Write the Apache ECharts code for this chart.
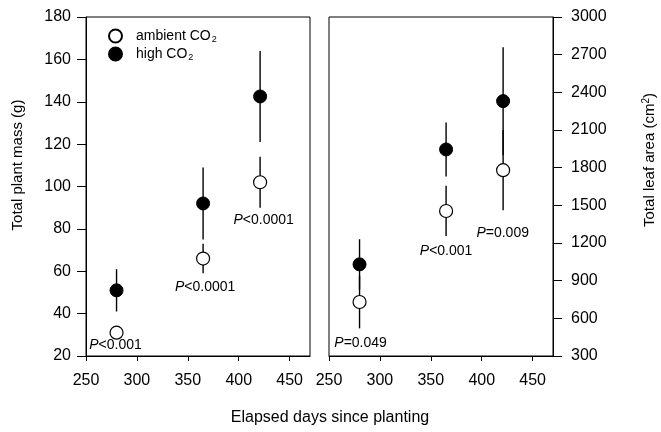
<!DOCTYPE html>
<html>
<head>
<meta charset="utf-8">
<script src="https://cdn.jsdelivr.net/npm/echarts@6/dist/echarts.min.js"></script>
<style>html,body{margin:0;padding:0;background:#fff}#c{width:661px;height:432px}</style>
</head>
<body>
<div id="c"></div>
<script>
// ---- data ----
var days = [280, 365, 421];
var massAmbient = [31, 66, 102];
var massAmbientErr = [3, 7, 12];
var massHigh = [51, 92, 142.5];
var massHighErr = [10, 17, 21.5];
var areaAmbient = [730, 1455, 1780];
var areaAmbientErr = [210, 200, 320];
var areaHigh = [1030, 1945, 2330];
var areaHighErr = [200, 215, 430];
var xTicks = [250, 300, 350, 400, 450];
var massPText = ['<0.001', '<0.0001', '<0.0001'];
var massPPos = [[279, 25], [367, 52.5], [424.5, 84]];
var areaPText = ['=0.049', '<0.001', '=0.009'];
var areaPPos = [[281, 403], [365, 1136], [420.6, 1280]];

var FONT = '"Liberation Sans", Arial, Helvetica, sans-serif';

function pts(v) { return days.map(function (d, i) { return [d, v[i]]; }); }
function errs(v, e) { return days.map(function (d, i) { return [d, v[i] - e[i], v[i] + e[i]]; }); }
function plabels(pos, txt) { return pos.map(function (p, i) { return [p[0], p[1], txt[i]]; }); }

function errSeries(data, xi, yi) {
  return {
    type: 'custom', xAxisIndex: xi, yAxisIndex: yi, data: data, z: 1,
    encode: { x: 0, y: [1, 2] },
    renderItem: function (params, api) {
      var a = api.coord([api.value(0), api.value(1)]);
      var b = api.coord([api.value(0), api.value(2)]);
      return { type: 'line', shape: { x1: a[0], y1: a[1], x2: b[0], y2: b[1] },
               style: { stroke: '#000', lineWidth: 1.4 } };
    }
  };
}
var ambStyle = { color: '#fff', borderColor: '#000', borderWidth: 1.2, opacity: 1 };
var highStyle = { color: '#000', borderColor: '#000', borderWidth: 1, opacity: 1 };
function ptSeries(name, data, xi, yi, style) {
  return { name: name, type: 'scatter', xAxisIndex: xi, yAxisIndex: yi, data: data,
           symbol: 'circle', symbolSize: 13, itemStyle: style, z: 3 };
}
function labSeries(data, xi, yi) {
  return {
    type: 'scatter', xAxisIndex: xi, yAxisIndex: yi, data: data, symbolSize: 0, z: 4,
    silent: true, itemStyle: { opacity: 1 },
    label: {
      show: true, position: 'inside', opacity: 1, color: '#000',
      formatter: function (p) { return '{i|P}{n|' + p.value[2] + '}'; },
      rich: {
        i: { fontStyle: 'italic', fontSize: 14, fontFamily: FONT, color: '#000' },
        n: { fontSize: 14, fontFamily: FONT, color: '#000' }
      }
    }
  };
}
function xAx(gi) {
  return {
    type: 'value', gridIndex: gi, min: 250, max: 470, interval: 50,
    axisLine: { lineStyle: { color: '#000', width: 1 } },
    axisTick: { length: 5, customValues: xTicks, lineStyle: { color: '#000' } },
    axisLabel: { customValues: xTicks, margin: 17, fontSize: 16, fontFamily: FONT, color: '#000' },
    splitLine: { show: false }
  };
}
function plain(v) { return String(v); }

var chart = echarts.init(document.getElementById('c'));
chart.setOption({
  animation: false,
  backgroundColor: '#fff',
  grid: [
    { left: 86, top: 17, width: 224, height: 339, show: true, borderColor: '#000', borderWidth: 1 },
    { left: 329, top: 17, width: 224, height: 339, show: true, borderColor: '#000', borderWidth: 1 }
  ],
  xAxis: [xAx(0), xAx(1)],
  yAxis: [
    { type: 'value', gridIndex: 0, min: 20, max: 180, interval: 20,
      axisLine: { show: true, lineStyle: { color: '#000' } },
      axisTick: { show: true, length: 9, lineStyle: { color: '#000' } },
      axisLabel: { margin: 15, fontSize: 16, fontFamily: FONT, color: '#000', formatter: plain },
      splitLine: { show: false } },
    { type: 'value', gridIndex: 1, position: 'right', min: 300, max: 3000, interval: 300,
      axisLine: { show: true, lineStyle: { color: '#000' } },
      axisTick: { show: true, length: 9, lineStyle: { color: '#000' } },
      axisLabel: { margin: 18, fontSize: 16, fontFamily: FONT, color: '#000', formatter: plain },
      splitLine: { show: false } }
  ],
  legend: {
    orient: 'vertical', left: 103, top: 23, itemWidth: 13, itemHeight: 13, itemGap: 2,
    icon: 'circle', selectedMode: false,
    data: ['ambient', 'high'],
    formatter: function (n) { return n === 'ambient' ? '{t|ambient CO}{s|2}' : '{t|high CO}{s|2}'; },
    textStyle: {
      color: '#000', fontFamily: FONT, fontSize: 14, padding: [0, 0, 0, 9],
      rich: {
        t: { fontSize: 14, lineHeight: 15, fontFamily: FONT, color: '#000' },
        s: { fontSize: 9, lineHeight: 10, fontFamily: FONT, color: '#000', padding: [7, 0, 0, 1] }
      }
    }
  },
  graphic: [
    { type: 'text', x: 18, y: 165, rotation: Math.PI / 2,
      style: { text: 'Total plant mass (g)', font: '15px ' + FONT, fill: '#000', align: 'center', verticalAlign: 'middle' } },
    { type: 'text', x: 650, y: 160, rotation: Math.PI / 2,
      style: { text: '{t|Total leaf area (cm}{s|2}{t|)}', align: 'center', verticalAlign: 'middle',
        rich: { t: { fontSize: 15, fontFamily: FONT, fill: '#000', color: '#000' },
                s: { fontSize: 10, fontFamily: FONT, color: '#000', verticalAlign: 'top', padding: [0, 0, 8, 0] } } } },
    { type: 'text', x: 330, y: 418,
      style: { text: 'Elapsed days since planting', font: '16px ' + FONT, fill: '#000', align: 'center', verticalAlign: 'middle' } }
  ],
  series: [
    errSeries(errs(massAmbient, massAmbientErr), 0, 0),
    errSeries(errs(massHigh, massHighErr), 0, 0),
    ptSeries('ambient', pts(massAmbient), 0, 0, ambStyle),
    ptSeries('high', pts(massHigh), 0, 0, highStyle),
    labSeries(plabels(massPPos, massPText), 0, 0),
    errSeries(errs(areaAmbient, areaAmbientErr), 1, 1),
    errSeries(errs(areaHigh, areaHighErr), 1, 1),
    ptSeries('ambient', pts(areaAmbient), 1, 1, ambStyle),
    ptSeries('high', pts(areaHigh), 1, 1, highStyle),
    labSeries(plabels(areaPPos, areaPText), 1, 1)
  ]
});
</script>
</body>
</html>
